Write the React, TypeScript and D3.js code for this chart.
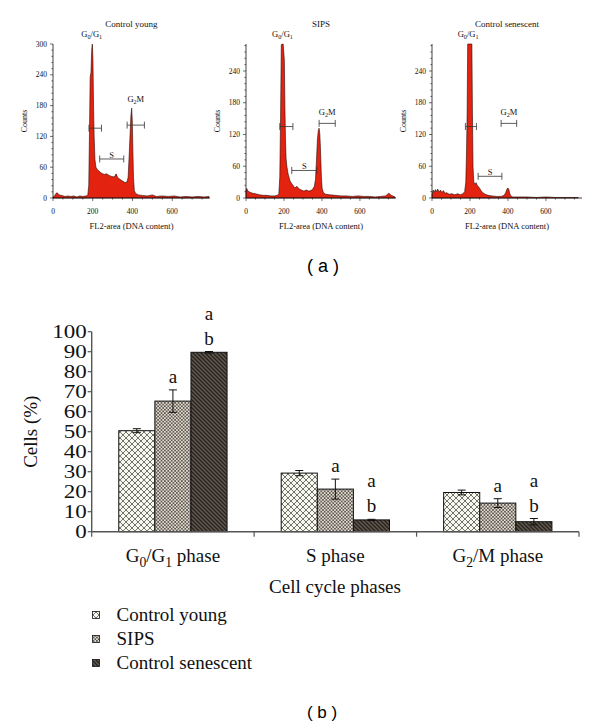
import { scaleLinear, scaleBand, area, curveLinear, range } from "d3";

// ---------- (a) DNA content histograms ----------
const channelMax = 790;
const xTicks = [0, 200, 400, 600];

// [channel, counts]
const youngHist: [number, number][] = [
    [0, 2], [8, 4], [15, 9], [22, 10], [30, 6], [45, 5], [60, 3], [75, 4], [90, 3], [105, 4], [120, 2], [135, 4],
    [150, 3], [165, 4], [175, 5], [180, 25], [184, 140], [187, 235], [191, 245], [195, 290], [198, 300], [201, 270],
    [204, 180], [207, 120], [211, 75], [216, 60], [222, 56], [232, 52], [245, 48], [258, 46], [270, 47], [282, 44],
    [295, 42], [308, 41], [318, 47], [325, 40], [338, 36], [350, 33], [362, 30], [372, 31], [378, 40], [383, 80],
    [388, 125], [392, 160], [396, 175], [399, 150], [402, 90], [405, 40], [409, 15], [415, 9], [430, 6], [450, 5],
    [475, 4], [500, 6], [520, 3], [550, 4], [580, 3], [610, 4], [640, 2], [670, 3], [700, 2], [730, 3], [760, 2], [785, 3],
];
const sipsHist: [number, number][] = [
    [0, 14], [4, 18], [10, 13], [20, 11], [35, 9], [50, 8], [70, 6], [90, 5], [110, 5], [130, 4], [150, 4], [165, 5],
    [173, 8], [178, 40], [182, 150], [186, 290], [196, 292], [202, 260], [205, 170], [208, 110], [211, 75], [215, 60],
    [222, 45], [232, 32], [245, 25], [258, 19], [268, 22], [280, 17], [292, 15], [305, 13], [318, 15], [330, 13],
    [342, 14], [352, 17], [360, 22], [366, 35], [371, 70], [376, 110], [381, 128], [385, 132], [389, 120], [393, 85],
    [397, 40], [401, 18], [408, 10], [420, 7], [440, 6], [470, 5], [500, 4], [530, 4], [560, 3], [590, 4], [620, 3],
    [650, 3], [680, 2], [710, 3], [735, 4], [752, 9], [765, 5], [785, 2],
];
const senescentHist: [number, number][] = [
    [0, 6], [6, 15], [12, 11], [18, 16], [24, 12], [30, 17], [38, 11], [45, 15], [52, 10], [60, 14], [68, 9], [78, 10],
    [90, 7], [105, 8], [120, 6], [135, 8], [150, 6], [162, 8], [172, 12], [178, 30], [182, 90], [185, 160], [188, 292],
    [210, 292], [213, 160], [216, 60], [220, 30], [226, 26], [232, 29], [238, 24], [248, 20], [258, 14], [268, 10],
    [280, 7], [295, 5], [315, 4], [340, 3], [365, 3], [380, 5], [388, 10], [394, 16], [399, 19], [404, 17], [409, 9],
    [415, 4], [425, 2], [450, 2], [500, 2], [550, 1], [600, 2], [650, 1], [700, 1], [740, 1], [770, 1],
];

// gate: [label, from, to, bracket level, label level (null = above plot)]
type Gate = [string, number, number, number, number | null];
const youngGates: Gate[] = [["G0/G1", 181, 244, 136, null], ["S", 235, 356, 76, 78], ["G2M", 373, 460, 142, 187]];
const sipsGates: Gate[] = [["G0/G1", 178, 247, 135, null], ["S", 241, 373, 52, 54], ["G2M", 385, 470, 141, 157]];
const senescentGates: Gate[] = [["G0/G1", 176, 234, 135, null], ["S", 243, 368, 41, 43], ["G2M", 364, 446, 141, 157]];

// ---------- (b) cell cycle distribution ----------
const phases = ["G0/G1 phase", "S phase", "G2/M phase"];
const groups = ["Control young", "SIPS", "Control senescent"];
const controlYoung = [50.5, 29.3, 19.6];
const controlYoungErr = [1.0, 1.3, 1.2];
const sips = [65.3, 21.3, 14.3];
const sipsErr = [5.6, 5.0, 2.2];
const controlSenescent = [89.7, 5.9, 5.0];
const controlSenescentErr = [0.4, 0.3, 1.6];
const sipsMarks = ["a", "a", "a"];
const senescentMarks = ["ab", "ab", "ab"];
const yTicksB = range(0, 101, 10);

const means = [controlYoung, sips, controlSenescent];
const errs = [controlYoungErr, sipsErr, controlSenescentErr];
const marks = [["", "", ""], sipsMarks, senescentMarks];
const fills = ["url(#pYoung)", "url(#pSips)", "url(#pSen)"];

const SERIF = "'Liberation Serif', 'Times New Roman', Times, serif";
const SANS = "'Liberation Sans', Arial, sans-serif";

// digits after a letter become subscripts: G0/G1 -> G₀/G₁
function SubText({ label, size }: { label: string; size: number }) {
    const parts = label.split(/(\d)/);
    const shift = size * 0.28;
    return (
        <>
            {parts.map((p, i) =>
                i % 2 === 1 ? (
                    <tspan key={i} dy={shift} fontSize={size * 0.72}>
                        {p}
                    </tspan>
                ) : (
                    <tspan key={i} dy={i === 0 ? 0 : -shift}>
                        {p}
                    </tspan>
                )
            )}
        </>
    );
}

function Histogram({
    title,
    data,
    gates,
    left,
    right,
    yMax,
}: {
    title: string;
    data: [number, number][];
    gates: Gate[];
    left: number;
    right: number;
    yMax: number;
}) {
    const bottom = 198;
    const top = 44;
    const x = scaleLinear().domain([0, channelMax]).range([left, right]);
    const y = scaleLinear().domain([0, yMax]).range([bottom, top]);
    const histArea = area<[number, number]>()
        .x((d) => x(d[0]))
        .y0(bottom)
        .y1((d) => y(Math.min(d[1], yMax)))
        .curve(curveLinear);
    const cx = (left + right) / 2;

    return (
        <g style={{ fontFamily: SERIF }} fill="#111">
            <text x={cx} y={27} fontSize={9} textAnchor="middle">
                {title}
            </text>
            <path d={histArea(data) ?? ""} fill="#e3220f" stroke="#2a0804" strokeWidth={0.6} />

            {/* y axis */}
            <line x1={left} x2={left} y1={bottom} y2={top} stroke="#111" strokeWidth={0.8} />
            {range(0, yMax + 1, 12).map((t) => (
                <line key={t} x1={left - (t % 60 === 0 ? 3 : 1.6)} x2={left} y1={y(t)} y2={y(t)} stroke="#111" strokeWidth={0.6} />
            ))}
            {range(0, yMax + 1, 60).map((t) => (
                <text key={t} x={left - 6} y={y(t) + 2.6} fontSize={7.5} textAnchor="end">
                    {t}
                </text>
            ))}
            <text transform={`translate(${left - 26},${(top + bottom) / 2}) rotate(-90)`} fontSize={8} textAnchor="middle">
                Counts
            </text>

            {/* x axis */}
            <line x1={left} x2={right} y1={bottom} y2={bottom} stroke="#111" strokeWidth={0.8} />
            {range(0, channelMax, 50).map((t) => (
                <line key={t} x1={x(t)} x2={x(t)} y1={bottom} y2={bottom + (t % 200 === 0 ? 3 : 1.6)} stroke="#111" strokeWidth={0.6} />
            ))}
            {xTicks.map((t) => (
                <text key={t} x={x(t)} y={214} fontSize={7.5} textAnchor="middle">
                    {t}
                </text>
            ))}
            <text x={cx} y={229} fontSize={8.5} textAnchor="middle">
                FL2-area (DNA content)
            </text>

            {/* gates */}
            {gates.map(([name, lo, hi, at, labelAt]) => (
                <g key={name} stroke="#333" strokeWidth={0.8}>
                    <line x1={x(lo)} x2={x(hi)} y1={y(at)} y2={y(at)} />
                    <line x1={x(lo)} x2={x(lo)} y1={y(at) - 3.5} y2={y(at) + 3.5} />
                    <line x1={x(hi)} x2={x(hi)} y1={y(at) - 3.5} y2={y(at) + 3.5} />
                    <text
                        x={labelAt === null ? x(lo + 14) : x((lo + hi) / 2)}
                        y={labelAt === null ? 37 : y(labelAt)}
                        fontSize={8.5}
                        textAnchor="middle"
                        stroke="none"
                        fill="#111"
                    >
                        <SubText label={name} size={8.5} />
                    </text>
                </g>
            ))}
        </g>
    );
}

function BarChart() {
    const left = 91.7;
    const right = 579;
    const base = 531.7;
    const x0 = scaleBand<string>().domain(phases).range([left, right]);
    const x1 = scaleBand<string>().domain(groups).range([0, x0.bandwidth()]).paddingOuter(0.75);
    const y = scaleLinear().domain([0, 100]).range([base, 331.7]);
    const fs = 19;
    const bounds = [...phases.map((p) => x0(p) ?? 0), right];

    return (
        <g style={{ fontFamily: SERIF }} fill="#111">
            {phases.map((p, pi) =>
                groups.map((g, gi) => {
                    const bx = (x0(p) ?? 0) + (x1(g) ?? 0);
                    const w = x1.bandwidth();
                    const v = means[gi][pi];
                    const e = errs[gi][pi];
                    const mx = bx + w / 2;
                    const errTop = y(v + e);
                    const m = marks[gi][pi];
                    return (
                        <g key={p + g}>
                            <rect x={bx} y={y(v)} width={w} height={base - y(v)} fill={fills[gi]} stroke="#111" strokeWidth={1} />
                            <g stroke="#111" strokeWidth={1}>
                                <line x1={mx} x2={mx} y1={y(v - e)} y2={errTop} />
                                <line x1={mx - 4} x2={mx + 4} y1={errTop} y2={errTop} />
                                <line x1={mx - 4} x2={mx + 4} y1={y(v - e)} y2={y(v - e)} />
                            </g>
                            {m.split("").reverse().map((c, ci) => (
                                <text key={ci} x={mx} y={errTop - 7 - ci * 25} fontSize={fs} textAnchor="middle">
                                    {c}
                                </text>
                            ))}
                        </g>
                    );
                })
            )}

            {/* axes */}
            <line x1={left} x2={left} y1={base} y2={y(100)} stroke="#555" strokeWidth={1.4} />
            {yTicksB.map((t) => (
                <g key={t}>
                    <line x1={left - 4} x2={left} y1={y(t)} y2={y(t)} stroke="#555" strokeWidth={1.2} />
                    <text
                        x={left - 5}
                        y={y(t) + 6}
                        fontSize={18}
                        textAnchor="end"
                        textLength={String(t).length * 11.5}
                        lengthAdjust="spacingAndGlyphs"
                    >
                        {t}
                    </text>
                </g>
            ))}
            <line x1={left} x2={right} y1={base} y2={base} stroke="#555" strokeWidth={1.4} />
            {bounds.map((b) => (
                <line key={b} x1={b} x2={b} y1={base} y2={base + 5} stroke="#555" strokeWidth={1.2} />
            ))}
            {phases.map((p) => (
                <text key={p} x={(x0(p) ?? 0) + x0.bandwidth() / 2} y={562} fontSize={fs} textAnchor="middle">
                    <SubText label={p} size={fs} />
                </text>
            ))}
            <text x={335} y={593} fontSize={fs} textAnchor="middle">
                Cell cycle phases
            </text>
            <text transform={`translate(37,${y(50)}) rotate(-90)`} fontSize={fs} textAnchor="middle">
                Cells (%)
            </text>

            {/* legend */}
            {groups.map((g, gi) => (
                <g key={g}>
                    <rect x={92.5} y={611.5 + gi * 24} width={7} height={7} fill={fills[gi]} stroke="#111" strokeWidth={0.8} />
                    <text x={116.5} y={621 + gi * 24} fontSize={fs}>
                        {g}
                    </text>
                </g>
            ))}
        </g>
    );
}

export default function App() {
    return (
        <svg
            width={600}
            height={725}
            viewBox="0 0 600 725"
            style={{ position: "absolute", left: 0, top: 0, background: "#fff" }}
        >
            <defs>
                <pattern id="pYoung" width={6} height={6} patternUnits="userSpaceOnUse">
                    <rect width={6} height={6} fill="#f8f9ee" />
                    <path d="M0,0L6,6M6,0L0,6" stroke="#3a3a36" strokeWidth={0.7} />
                </pattern>
                <pattern id="pSips" width={3.4} height={3.4} patternUnits="userSpaceOnUse">
                    <rect width={3.4} height={3.4} fill="#e4ddcf" />
                    <path d="M0,0L3.4,3.4M3.4,0L0,3.4" stroke="#4a4642" strokeWidth={0.75} />
                </pattern>
                <pattern id="pSen" width={4} height={4} patternUnits="userSpaceOnUse">
                    <rect width={4} height={4} fill="#625a4e" />
                    <path d="M0,0L4,4M-1,3L1,5M3,-1L5,1" stroke="#26221f" strokeWidth={1.4} />
                </pattern>
            </defs>

            <Histogram title="Control young" data={youngHist} gates={youngGates} left={53} right={210} yMax={300} />
            <Histogram title="SIPS" data={sipsHist} gates={sipsGates} left={246} right={396} yMax={291} />
            <Histogram title="Control senescent" data={senescentHist} gates={senescentGates} left={432} right={582} yMax={291} />

            <text x={323} y={272} fontFamily={SANS} fontSize={18} textAnchor="middle">
                ( a )
            </text>

            <BarChart />

            <text x={322} y={718} fontFamily={SANS} fontSize={17} textAnchor="middle">
                ( b )
            </text>
        </svg>
    );
}
